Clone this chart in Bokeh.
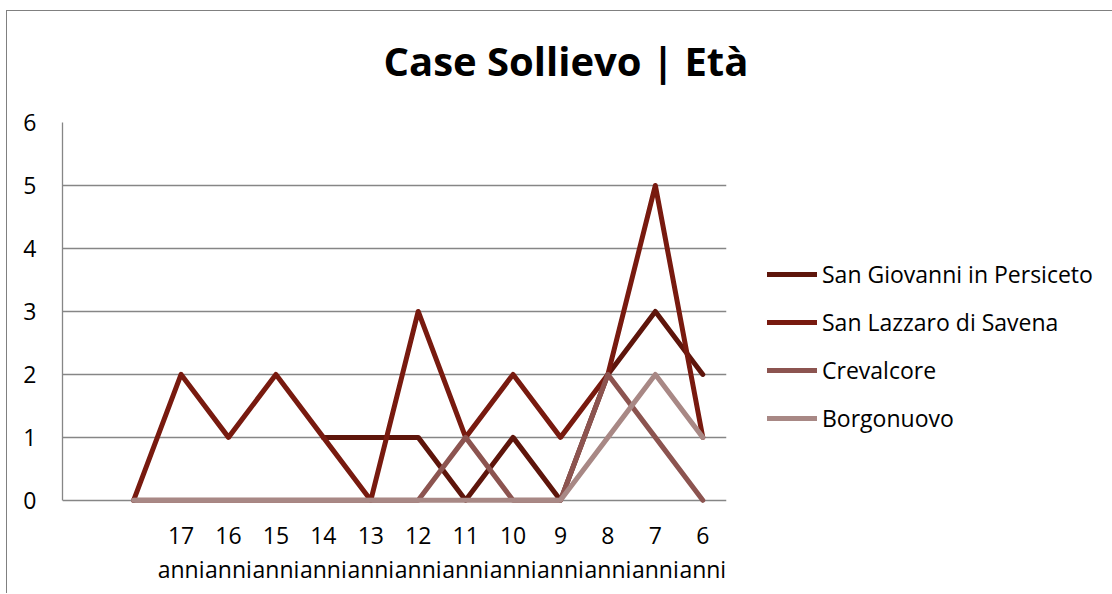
from bokeh.plotting import figure
from bokeh.models import Range1d, FixedTicker, LinearAxis, Legend, LegendItem
from bokeh.embed import file_html
from bokeh.resources import INLINE

nan = float("nan")

title = "Case Sollievo | Età"
categories = ["", "", "17 anni", "16 anni", "15 anni", "14 anni", "13 anni",
              "12 anni", "11 anni", "10 anni", "9 anni", "8 anni", "7 anni", "6 anni"]
series_names = ["San Giovanni in Persiceto", "San Lazzaro di Savena", "Crevalcore", "Borgonuovo"]
san_giovanni = [nan, nan, nan, nan, nan, 1, 1, 1, 0, 1, 0, 2, 3, 2]
san_lazzaro = [nan, 0, 2, 1, 2, 1, 0, 3, 1, 2, 1, 2, 5, 1]
crevalcore = [nan, 0, 0, 0, 0, 0, 0, 0, 1, 0, 0, 2, 1, 0]
borgonuovo = [nan, 0, 0, 0, 0, 0, 0, 0, 0, 0, 0, 1, 2, 1]
y_ticks = [0, 1, 2, 3, 4, 5, 6]

series = [san_giovanni, san_lazzaro, crevalcore, borgonuovo]
colors = ["#5e150b", "#781a0f", "#8c5450", "#a88885"]
FONT = "Open Sans"
GRID = "#868686"

xs = list(range(len(categories)))
tick_pos = [i for i, c in enumerate(categories) if c]
num_labels = {i: categories[i].split(" ")[0] for i in tick_pos}
unit_labels = {i: categories[i].split(" ")[1] for i in tick_pos}

p = figure(frame_width=664, frame_height=381,
           x_range=Range1d(-0.5, len(categories) - 0.5),
           y_range=Range1d(-0.05, 6),
           output_backend="svg", toolbar_location=None,
           min_border_left=62, min_border_right=0,
           min_border_top=122, min_border_bottom=90,
           title=title)
# chart-area border (top and left edges) drawn behind the transparent canvas border
p.styles = {
    "background": ("linear-gradient(#808080, #808080) 6px 10px / 100% 1px no-repeat, "
                   "linear-gradient(#808080, #808080) 6px 10px / 1px 100% no-repeat"),
}
p.border_fill_alpha = 0

p.title.align = "left"
p.title.vertical_align = "top"
p.title.offset = 321
p.title.standoff = 65
p.title.text_font = FONT
p.title.text_font_size = "40px"
p.title.text_font_style = "bold"
p.title.text_color = "#000000"

p.outline_line_color = None
p.background_fill_color = "white"

p.xgrid.visible = False
p.ygrid.ticker = FixedTicker(ticks=y_ticks)
p.ygrid.grid_line_color = GRID
p.ygrid.grid_line_width = 1.3

# y axis
ya = p.yaxis[0]
ya.ticker = FixedTicker(ticks=y_ticks)
ya.bounds = (0, 6)
ya.axis_line_color = GRID
ya.axis_line_width = 1.3
ya.major_tick_in = 0
ya.major_tick_out = 0
ya.minor_tick_in = 0
ya.minor_tick_out = 0
ya.major_label_standoff = 26
ya.major_label_text_font = FONT
ya.major_label_text_font_size = "23px"
ya.major_label_text_color = "#000000"

# x axis: numbers row
xa = p.xaxis[0]
xa.ticker = FixedTicker(ticks=tick_pos)
xa.major_label_overrides = num_labels
xa.axis_line_color = None
xa.major_tick_in = 0
xa.major_tick_out = 0
xa.minor_tick_in = 0
xa.minor_tick_out = 0
xa.major_label_standoff = 23
xa.major_label_text_font = FONT
xa.major_label_text_font_size = "23px"
xa.major_label_text_color = "#000000"

# x axis: "anni" row
xa2 = LinearAxis(ticker=FixedTicker(ticks=tick_pos), major_label_overrides=unit_labels)
xa2.axis_line_color = None
xa2.major_tick_in = 0
xa2.major_tick_out = 0
xa2.minor_tick_in = 0
xa2.minor_tick_out = 0
xa2.major_label_standoff = 6
xa2.major_label_text_font = FONT
xa2.major_label_text_font_size = "23px"
xa2.major_label_text_color = "#000000"
p.add_layout(xa2, "below")

items = []
for name, ys, col in zip(series_names, series, colors):
    r = p.line(xs, ys, line_color=col, line_width=5, line_join="round", line_cap="round")
    items.append(LegendItem(label=name, renderers=[r]))

legend = Legend(items=items, location=(41, 69), padding=0, margin=0,
                spacing=16, glyph_height=28, glyph_width=50, label_height=28,
                label_standoff=5, border_line_alpha=0, background_fill_alpha=0,
                label_text_font=FONT, label_text_font_size="23px",
                label_text_color="#000000")
p.add_layout(legend, "right")

open("out.html", "w").write(file_html(p, INLINE))
